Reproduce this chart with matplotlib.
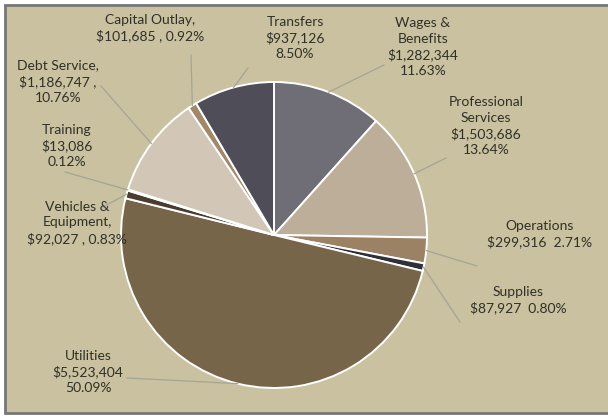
import numpy as np
import matplotlib.pyplot as plt
from matplotlib.patches import Rectangle

# expenditure categories, clockwise from 12 o'clock
names   = ['Wages & Benefits', 'Professional Services', 'Operations', 'Supplies',
           'Utilities', 'Vehicles & Equipment', 'Training', 'Debt Service',
           'Capital Outlay', 'Transfers']
amounts = [1282344, 1503686, 299316, 87927, 5523404, 92027, 13086, 1186747,
           101685, 937126]
colors  = ['#6f6d75', '#bcae98', '#9c8264', '#2f3038', '#776549', '#4a3c30',
           '#cfc3b2', '#d2c7b7', '#a08868', '#4f4d57']

# label text layouts ({a} amount, {p} percent)
label_fmt = ['Wages &\nBenefits\n{a}\n{p}',
             'Professional\nServices\n{a}\n{p}',
             'Operations\n{a}  {p}',
             'Supplies\n{a}  {p}',
             'Utilities\n{a}\n{p}',
             'Vehicles &\nEquipment,\n{a} , {p}',
             'Training\n{a}\n{p}',
             'Debt Service,\n{a} ,\n{p}',
             'Capital Outlay,\n{a} , {p}',
             'Transfers\n{a}\n{p}']

# label centre and leader-line end point (pixels from top-left)
label_xy = [(423, 47), (486, 126), (540, 234), (518, 300), (88, 372),
            (77, 223), (67, 146), (58, 82), (150, 28), (295, 38)]
leader_end = [(384, 65), (446, 158), (477, 266), (460, 322), (127, 378),
              (103, 207), (65, 172), (101, 86), (191, 55), (248, 68)]

W, H = 608, 417
cx, cy, R = 274, 235, 153

fig = plt.figure(figsize=(W / 100, H / 100), dpi=100)
fig.patch.set_facecolor('white')
ax = fig.add_axes([0, 0, 1, 1])

# panel background; right edge runs off the image
ax.add_patch(Rectangle((5, 4), W + 20, H - 9, facecolor='#c9c19f',
                       edgecolor='#767676', lw=2, zorder=0))

wedges, _ = ax.pie(amounts, colors=colors, startangle=90, counterclock=False,
                   center=(cx, H - cy), radius=R,
                   wedgeprops=dict(edgecolor='white', linewidth=1.4))

ax.set_xlim(0, W)
ax.set_ylim(0, H)
ax.set_aspect('equal')
ax.axis('off')

total = sum(amounts)
for w, amt, fmt, (lx, ly), (ex, ey) in zip(wedges, amounts, label_fmt,
                                            label_xy, leader_end):
    pct = 100.0 * amt / total
    txt = fmt.format(a=f'${amt:,}', p=f'{pct:.2f}%')
    ax.text(lx, H - ly, txt, ha='center', va='center', fontsize=10,
            family='Lato', color='#303028', linespacing=1.38, zorder=5)
    mid = np.deg2rad((w.theta1 + w.theta2) / 2)
    sx = cx + R * np.cos(mid)
    sy = (H - cy) + R * np.sin(mid)
    ax.plot([sx, ex], [sy, H - ey], color='#a5a596', lw=0.9, zorder=4)

fig.savefig('out.png', dpi=100)
